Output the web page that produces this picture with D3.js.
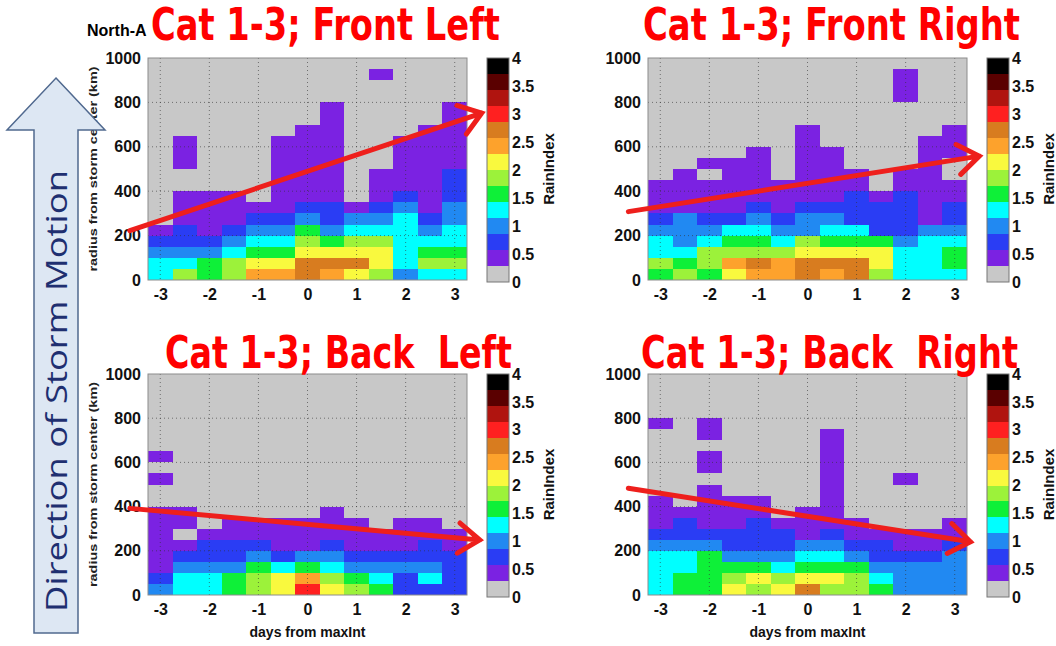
<!DOCTYPE html>
<html>
<head>
<meta charset="utf-8">
<script src="https://cdn.jsdelivr.net/npm/d3@7/dist/d3.min.js"></script>
<style>
    body { margin: 0; background: #fff; }
    svg text { font-family: "Liberation Sans", Arial, sans-serif; }
</style>
</head>
<body>
<div id="rainIndex"></div>
<script>
// half-day bins (days from max intensity) and 50 km radius bins
var dayBins = [-3, -2.5, -2, -1.5, -1, -0.5, 0, 0.5, 1, 1.5, 2, 2.5, 3];
var dayTicks = [-3, -2, -1, 0, 1, 2, 3];
var radiusTicks = [0, 200, 400, 600, 800, 1000];
var radiusBin = 50, radiusBinCount = 20;
var colorTicks = [0, 0.5, 1, 1.5, 2, 2.5, 3, 3.5, 4];
var colorLevels = ["#c8c8c8", "#7b22e2", "#2a3df4", "#2189f2", "#00ffff", "#0ef038", "#9cf23a",
    "#f9f93e", "#fda22c", "#d87c1f", "#ff2020", "#b0140f", "#5a0000", "#000000"];

// RainIndex per column (one per day bin), listed from 0-50 km upward; rows not listed are 0
var frontLeft = [
    [1.3, 1.3, 1.0, 0.7, 0.4],
    [1.9, 1.3, 1.0, 0.7, 0.7, 0.4, 0.4, 0.4, 0, 0, 0.4, 0.4, 0.4],
    [1.6, 1.6, 1.0, 0.7, 0.4, 0.4, 0.4, 0.4],
    [1.9, 1.9, 1.3, 1.0, 0.7, 0.4, 0.4, 0.4],
    [2.4, 2.1, 1.6, 1.3, 1.0, 0.7, 0.4],
    [2.4, 2.1, 1.6, 1.3, 1.0, 0.7, 0.4, 0.4, 0.4, 0.4, 0.4, 0.4, 0.4],
    [2.7, 2.7, 2.1, 1.9, 1.6, 1.0, 0.7, 0.4, 0.4, 0.4, 0.4, 0.4, 0.4, 0.4],
    [2.4, 2.7, 2.1, 1.6, 1.0, 0.7, 0.7, 0.4, 0.4, 0.4, 0.4, 0.4, 0.4, 0.4, 0.4, 0.4],
    [2.1, 2.7, 2.1, 1.9, 1.3, 1.0, 0.4],
    [1.9, 2.1, 2.1, 1.9, 1.3, 1.0, 0.7, 0.4, 0.4, 0.4, 0, 0, 0, 0, 0, 0, 0, 0, 0.4],
    [1.0, 1.3, 1.3, 1.3, 1.3, 1.3, 1.0, 0.7, 0.4, 0.4, 0.4, 0.4, 0.4],
    [1.3, 1.9, 1.6, 1.3, 1.0, 0.7, 0.4, 0.4, 0.4, 0.4, 0.4, 0.4, 0.4, 0.4],
    [1.3, 1.9, 1.6, 1.3, 1.3, 1.0, 1.0, 0.7, 0.7, 0.7, 0.4, 0.4, 0.4, 0.4, 0.4, 0.4]
];
var frontRight = [
    [1.6, 1.9, 1.3, 1.3, 1.0, 0.7, 0.4, 0.4, 0.4],
    [1.9, 1.6, 1.3, 1.0, 1.0, 1.0, 0.4, 0.4, 0.4, 0.4],
    [1.6, 1.9, 1.9, 1.3, 1.0, 0.7, 0.4, 0.4, 0.4, 0, 0.4],
    [2.1, 2.4, 1.9, 1.6, 1.3, 0.7, 0.4, 0.4, 0.4, 0.4, 0.4],
    [2.4, 2.7, 1.9, 1.6, 1.3, 1.0, 0.7, 0.4, 0.4, 0.4, 0.4, 0.4],
    [2.4, 2.4, 1.9, 1.3, 1.0, 0.7, 0.4, 0.4, 0.4],
    [2.7, 2.7, 2.1, 1.9, 1.0, 1.0, 0.7, 0.4, 0.4, 0.4, 0.4, 0.4, 0.4, 0.4],
    [2.4, 2.7, 2.1, 1.6, 1.3, 1.0, 0.7, 0.4, 0.4, 0.4, 0.4, 0.4],
    [2.7, 2.7, 2.1, 1.6, 1.3, 0.7, 0.7, 0.7, 0.4, 0.4],
    [1.9, 2.1, 2.1, 1.6, 0.7, 0.7, 0.7, 0.4],
    [1.3, 1.3, 1.3, 1.0, 0.7, 0.7, 0.7, 0.7, 0.4, 0.4, 0, 0, 0, 0, 0, 0, 0.4, 0.4, 0.4],
    [1.3, 1.3, 1.3, 1.3, 1.0, 0.4, 0.4, 0.4, 0.4, 0.4, 0.4, 0.4, 0.4],
    [1.3, 1.6, 1.6, 1.3, 1.0, 0.7, 0.7, 0.4, 0.4, 0, 0, 0.4, 0.4, 0.4]
];
var backLeft = [
    [1.0, 0.7, 0.4, 0.4, 0.4, 0.4, 0.4, 0.4, 0, 0, 0.4, 0, 0.4],
    [1.3, 1.3, 1.0, 0.7, 0.4, 0, 0.4, 0.4],
    [1.3, 1.3, 1.0, 0.7, 0.7, 0.4],
    [1.6, 1.6, 1.0, 0.7, 0.7, 0.4, 0.4],
    [1.9, 1.9, 1.6, 1.0, 0.7, 0.4, 0.4],
    [2.1, 2.1, 1.3, 0.7, 0.4, 0.4, 0.4],
    [3.0, 2.4, 1.6, 1.0, 0.4, 0.4, 0.4],
    [2.1, 1.9, 1.3, 1.0, 0.7, 0.4, 0.4, 0.4],
    [1.9, 1.6, 1.0, 0.7, 0.4, 0.4, 0.4],
    [1.6, 1.3, 1.0, 0.7, 0.4, 0.4],
    [0.7, 0.7, 1.0, 0.7, 0.4, 0.4, 0.4],
    [0.7, 1.3, 1.0, 0.7, 0.7, 0.4, 0.4],
    [0.7, 0.7, 0.7, 0.7, 0.4, 0.4]
];
var backRight = [
    [1.3, 1.3, 1.3, 1.3, 1.0, 0.7, 0.4, 0.4, 0.4, 0, 0, 0, 0, 0, 0, 0.4],
    [1.6, 1.6, 1.3, 1.3, 1.0, 0.7, 0.7, 0.4],
    [1.6, 1.6, 1.6, 1.6, 1.0, 0.7, 0.4, 0.4, 0.4, 0.4, 0, 0.4, 0.4, 0, 0.4, 0.4],
    [2.1, 1.9, 1.6, 1.0, 0.7, 0.7, 0.4, 0.4, 0.4],
    [1.9, 2.1, 1.6, 1.0, 0.7, 0.7, 0.7, 0.4, 0.4],
    [2.1, 1.9, 1.3, 1.0, 0.7, 0.7, 0.4],
    [2.7, 2.1, 1.6, 1.3, 1.0, 0.4, 0.4, 0.4],
    [1.9, 2.1, 1.6, 1.3, 1.0, 0.7, 0.4, 0.4, 0.4, 0.4, 0.4, 0.4, 0.4, 0.4, 0.4],
    [1.9, 1.9, 1.6, 1.0, 0.7, 0.4, 0.4],
    [1.6, 1.3, 1.0, 0.7, 0.7, 0.4],
    [1.0, 1.0, 1.0, 0.7, 0.4, 0.4, 0, 0, 0, 0, 0.4],
    [1.0, 1.0, 1.0, 0.7, 0.4, 0.4],
    [1.0, 1.0, 1.0, 1.0, 0.7, 0.4, 0.4]
];

// hand drawn trend arrows, [day, km] at tail and tip
var frontLeftTrend = [[-3.62, 222], [3.55, 752]];
var frontRightTrend = [[-3.65, 308], [3.5, 558]];
var backLeftTrend = [[-3.62, 392], [3.51, 249]];
var backRightTrend = [[-3.65, 483], [3.32, 241]];

var panels = [
    {title: "Cat 1-3; Front Left", data: frontLeft, trend: frontLeftTrend, left: 148, top: 58, height: 222,
        titleX: 151, titleY: 40, titleLen: 349, yLabel: true, xLabel: false},
    {title: "Cat 1-3; Front Right", data: frontRight, trend: frontRightTrend, left: 648, top: 58, height: 222,
        titleX: 643, titleY: 40, titleLen: 377, yLabel: false, xLabel: false},
    {title: "Cat 1-3; Back  Left", data: backLeft, trend: backLeftTrend, left: 148, top: 374, height: 221,
        titleX: 165, titleY: 368, titleLen: 347, yLabel: true, xLabel: true},
    {title: "Cat 1-3; Back  Right", data: backRight, trend: backRightTrend, left: 648, top: 374, height: 221,
        titleX: 641, titleY: 368, titleLen: 377, yLabel: false, xLabel: true}
];

var svg = d3.select("#rainIndex").append("svg")
    .attr("width", 1056)
    .attr("height", 646)
    .style("display", "block");

var color = d3.scaleThreshold()
    .domain(d3.range(1, colorLevels.length).map(function (i) { return i * 4 / colorLevels.length; }))
    .range(colorLevels);

// plain hyphen labels like the original figure
var plainFormat = function (d) { return String(d); };

// partly hidden figure header under the first title
svg.append("text")
    .attr("x", 87).attr("y", 36)
    .style("font-size", "16px").style("font-weight", "bold")
    .text("North-A");

/**
 * draw one heat map panel with its colour bar
 * @param p panel config
 */
var drawPanel = function (p) {
    var width = 319, bottom = p.top + p.height;
    var x = d3.scaleLinear().domain([-3.25, 3.25]).range([p.left, p.left + width]);
    var y = d3.scaleLinear().domain([0, 1000]).range([bottom, p.top]);
    var g = svg.append("g");

    var cells = [];
    p.data.forEach(function (col, i) {
        for (var j = 0; j < radiusBinCount; j++) {
            cells.push({d: dayBins[i], r: j * radiusBin, v: col[j] || 0});
        }
    });

    g.selectAll("rect.cell").data(cells).enter().append("rect")
        .attr("class", "cell")
        .attr("x", function (c) { return x(c.d - 0.25); })
        .attr("y", function (c) { return y(c.r + radiusBin); })
        .attr("width", function (c) { return x(c.d + 0.25) - x(c.d - 0.25); })
        .attr("height", function (c) { return y(c.r) - y(c.r + radiusBin); })
        .attr("shape-rendering", "crispEdges")
        .style("fill", function (c) { return color(c.v); });

    // dotted grid
    g.selectAll("line.vgrid").data(dayTicks).enter().append("line")
        .attr("x1", function (d) { return x(d); }).attr("x2", function (d) { return x(d); })
        .attr("y1", p.top).attr("y2", bottom)
        .style("stroke", "#333").style("stroke-width", 1).style("stroke-dasharray", "1,3").style("opacity", 0.6);
    g.selectAll("line.hgrid").data(radiusTicks.slice(1, -1)).enter().append("line")
        .attr("x1", p.left).attr("x2", p.left + width)
        .attr("y1", function (d) { return y(d); }).attr("y2", function (d) { return y(d); })
        .style("stroke", "#333").style("stroke-width", 1).style("stroke-dasharray", "1,3").style("opacity", 0.6);

    g.append("rect")
        .attr("x", p.left).attr("y", p.top).attr("width", width).attr("height", p.height)
        .style("fill", "none").style("stroke", "#8c8c8c").style("stroke-width", 1);

    // axes
    var yAxis = d3.axisLeft(y).tickValues(radiusTicks).tickSize(0).tickPadding(7).tickFormat(plainFormat);
    g.append("g").attr("transform", "translate(" + p.left + ",0)").call(yAxis)
        .call(function (a) { a.select(".domain").remove(); })
        .selectAll("text").style("font-size", "16px").style("font-weight", "bold").style("fill", "#111");

    var xAxis = d3.axisBottom(x).tickValues(dayTicks).tickSize(0).tickPadding(9).tickFormat(plainFormat);
    g.append("g").attr("transform", "translate(0," + bottom + ")").call(xAxis)
        .call(function (a) { a.select(".domain").remove(); })
        .selectAll("text").style("font-size", "16px").style("font-weight", "bold").style("fill", "#111");

    if (p.yLabel) {
        g.append("text")
            .attr("transform", "translate(97," + (p.top + p.height / 2) + ") rotate(-90)")
            .attr("text-anchor", "middle")
            .attr("textLength", 205).attr("lengthAdjust", "spacingAndGlyphs")
            .style("font-size", "11px").style("font-weight", "bold").style("fill", "#222")
            .text("radius from storm center (km)");
    }
    if (p.xLabel) {
        g.append("text")
            .attr("x", p.left + width / 2).attr("y", 637)
            .attr("text-anchor", "middle")
            .style("font-size", "14px").style("font-weight", "bold").style("fill", "#111")
            .text("days from maxInt");
    }

    // colour bar
    var cbLeft = p.left + 339, cbWidth = 22;
    var c = d3.scaleLinear().domain([0, 4]).range([bottom + 2, p.top]);
    var step = 4 / colorLevels.length;
    g.selectAll("rect.cb").data(colorLevels).enter().append("rect")
        .attr("x", cbLeft)
        .attr("y", function (d, i) { return c((i + 1) * step); })
        .attr("width", cbWidth)
        .attr("height", function (d, i) { return c(i * step) - c((i + 1) * step); })
        .attr("shape-rendering", "crispEdges")
        .style("fill", function (d) { return d; });
    g.append("rect")
        .attr("x", cbLeft).attr("y", c(4)).attr("width", cbWidth).attr("height", c(0) - c(4))
        .style("fill", "none").style("stroke", "#777").style("stroke-width", 1);
    var cAxis = d3.axisRight(c).tickValues(colorTicks).tickSize(0).tickPadding(3).tickFormat(plainFormat);
    g.append("g").attr("transform", "translate(" + (cbLeft + cbWidth) + ",0)").call(cAxis)
        .call(function (a) { a.select(".domain").remove(); })
        .selectAll("text").style("font-size", "16px").style("font-weight", "bold").style("fill", "#111");
    g.append("text")
        .attr("transform", "translate(" + (cbLeft + 67) + "," + (p.top + p.height / 2) + ") rotate(-90)")
        .attr("text-anchor", "middle")
        .style("font-size", "15px").style("font-weight", "bold").style("fill", "#111")
        .text("RainIndex");

    // trend arrow
    var x0 = x(p.trend[0][0]), y0 = y(p.trend[0][1]), x1 = x(p.trend[1][0]), y1 = y(p.trend[1][1]);
    var ang = Math.atan2(y1 - y0, x1 - x0), headLen = 26, spread = 0.62;
    g.append("path")
        .attr("d", "M" + x0 + "," + y0 + "L" + x1 + "," + y1 +
            "M" + (x1 - headLen * Math.cos(ang - spread)) + "," + (y1 - headLen * Math.sin(ang - spread)) +
            "L" + x1 + "," + y1 +
            "L" + (x1 - headLen * Math.cos(ang + spread)) + "," + (y1 - headLen * Math.sin(ang + spread)))
        .style("fill", "none").style("stroke", "#ee1f1c").style("stroke-width", 5)
        .style("stroke-linecap", "round").style("stroke-linejoin", "miter");

    // panel title
    svg.append("text")
        .attr("x", p.titleX).attr("y", p.titleY)
        .attr("textLength", p.titleLen).attr("lengthAdjust", "spacingAndGlyphs")
        .style("white-space", "pre")
        .style("font-family", "'Liberation Sans Narrow', 'DejaVu Sans Condensed', sans-serif")
        .style("font-size", "44px").style("font-weight", "bold").style("fill", "#ff0000")
        .text(p.title);
};

panels.forEach(drawPanel);

// big block arrow on the left
svg.append("path")
    .attr("d", "M56,78 L105,130 L78,130 L78,633 L34,633 L34,130 L7,130 Z")
    .style("fill", "#dde7f3").style("stroke", "#50698f").style("stroke-width", 1.5);
svg.append("text")
    .attr("transform", "translate(67,391) rotate(-90)")
    .attr("text-anchor", "middle")
    .attr("textLength", 442).attr("lengthAdjust", "spacingAndGlyphs")
    .style("font-family", "'Open Sans', 'Noto Sans', sans-serif")
    .style("font-size", "30px").style("fill", "#1f2f70")
    .text("Direction of Storm Motion");
</script>
</body>
</html>
